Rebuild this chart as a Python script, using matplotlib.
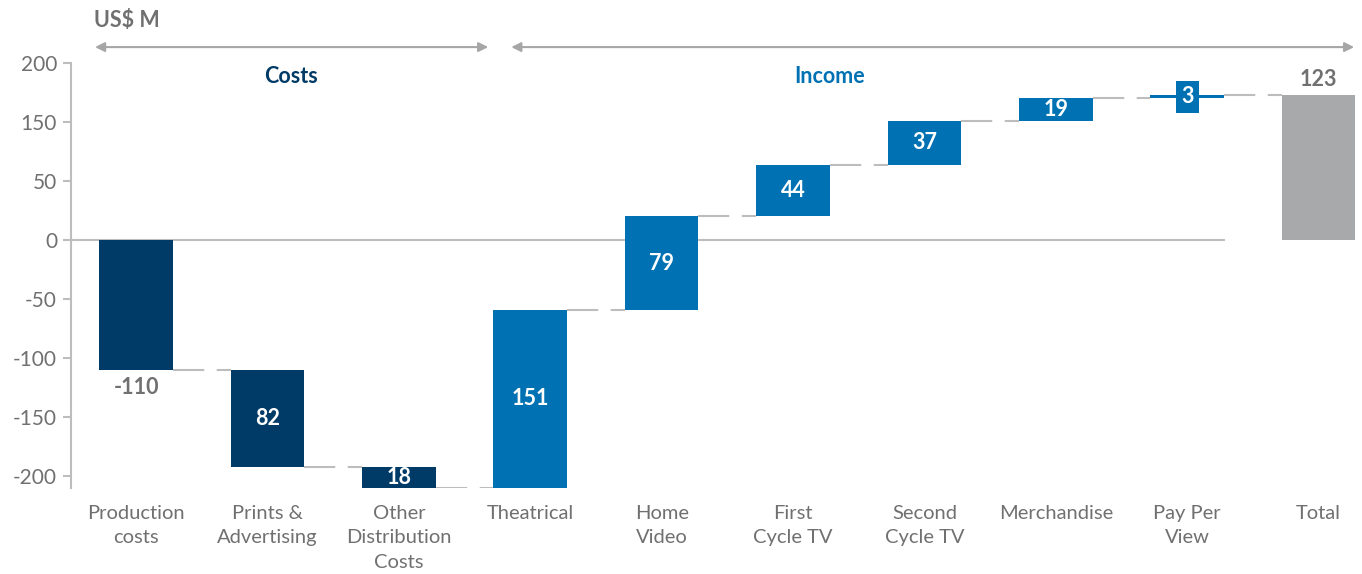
import matplotlib
matplotlib.use("Agg")
import matplotlib.pyplot as plt

categories = ["Production\ncosts", "Prints &\nAdvertising", "Other\nDistribution\nCosts",
              "Theatrical", "Home\nVideo", "First\nCycle TV", "Second\nCycle TV",
              "Merchandise", "Pay Per\nView", "Total"]
changes = [-110, -82, -18, 151, 79, 44, 37, 19, 3]
total = 123
value_labels = ["-110", "82", "18", "151", "79", "44", "37", "19", "3", "123"]
ytick_values = [150, 100, 50, 0, -50, -100, -150, -200]
ytick_labels = ["200", "150", "50", "0", "-50", "-100", "-150", "-200"]

NAVY = "#003A66"
BLUE = "#0072B3"
GREY_BAR = "#A7A9AB"
TEXT = "#707070"
LINE = "#BDBDBD"

plt.rcParams['font.family'] = ['Lato', 'DejaVu Sans']

fig = plt.figure(figsize=(13.62, 5.74), dpi=100)
ax = fig.add_axes([71/1362, 86/574, 1 - 71/1362, (488-4)/574])
xmin, xmax = -0.495, 9.33
ax.set_xlim(xmin, xmax)
ax.set_ylim(-210, 200)

w = 0.56
cum = 0
ends = []
for i, d in enumerate(changes):
    start = cum
    cum = cum + d
    ends.append(cum)
    color = NAVY if d < 0 else BLUE
    lo, hi = min(start, cum), max(start, cum)
    ax.bar(i, hi - lo, bottom=lo, width=w, color=color, zorder=3)
# total
ax.bar(9, total, bottom=0, width=w, color=GREY_BAR, zorder=3)

# zero line
ax.plot([xmin, 8 + w/2], [0, 0], color=LINE, lw=1.5, zorder=2)

# connectors
levels = ends
for i in range(9):
    ax.plot([i + w/2, i + 1 - w/2], [levels[i], levels[i]], color=LINE, lw=1.5,
            dashes=(15, 6), zorder=2)

# value labels
starts = [0] + ends[:-1]
for i in range(9):
    mid = (starts[i] + ends[i]) / 2
    if i == 0:
        ax.text(i, ends[i] - 15, value_labels[i], ha='center', va='center',
                color=TEXT, fontsize=15.5, fontweight='bold', zorder=4)
    elif i == 8:
        ax.text(i, mid, value_labels[i], ha='center', va='center', color='white',
                fontsize=15.5, fontweight='bold', zorder=5,
                bbox=dict(boxstyle='square,pad=0.25', fc=BLUE, ec='none'))
    else:
        ax.text(i, mid, value_labels[i], ha='center', va='center', color='white',
                fontsize=15.5, fontweight='bold', zorder=4)
ax.text(9, total + 13, value_labels[9], ha='center', va='center', color=TEXT,
        fontsize=15.5, fontweight='bold')

# axes styling
for s in ['top', 'right', 'bottom']:
    ax.spines[s].set_visible(False)
ax.spines['left'].set_color(LINE)
ax.spines['left'].set_linewidth(1.5)
ax.spines['left'].set_bounds(-210, 150)
ax.set_yticks(ytick_values)
ax.set_yticklabels(ytick_labels)
ax.tick_params(axis='y', colors=LINE, labelcolor=TEXT, labelsize=15, length=6, width=1.5, pad=4)
ax.set_xticks(range(10))
ax.set_xticklabels(categories, linespacing=1.55)
ax.tick_params(axis='x', length=0, labelcolor=TEXT, labelsize=14.5, pad=12)

# header annotations
arrow_kw = dict(arrowstyle='<|-|>', color='#A6A6A6', lw=1.5, mutation_scale=14, shrinkA=0, shrinkB=0)
ax.annotate('', xy=(-0.312, 163.5), xytext=(2.68, 163.5), arrowprops=arrow_kw, annotation_clip=False)
ax.annotate('', xy=(2.856, 163.5), xytext=(9.27, 163.5), arrowprops=arrow_kw, annotation_clip=False)
ax.text(1.18, 139, "Costs", ha='center', va='center', color=NAVY, fontsize=15.5, fontweight='bold')
ax.text(5.28, 139, "Income", ha='center', va='center', color=BLUE, fontsize=15.5, fontweight='bold')
ax.text(-0.07, 186, "US$ M", ha='center', va='center', color=TEXT, fontsize=15.5, fontweight='bold')

fig.savefig("out.png", dpi=100)
